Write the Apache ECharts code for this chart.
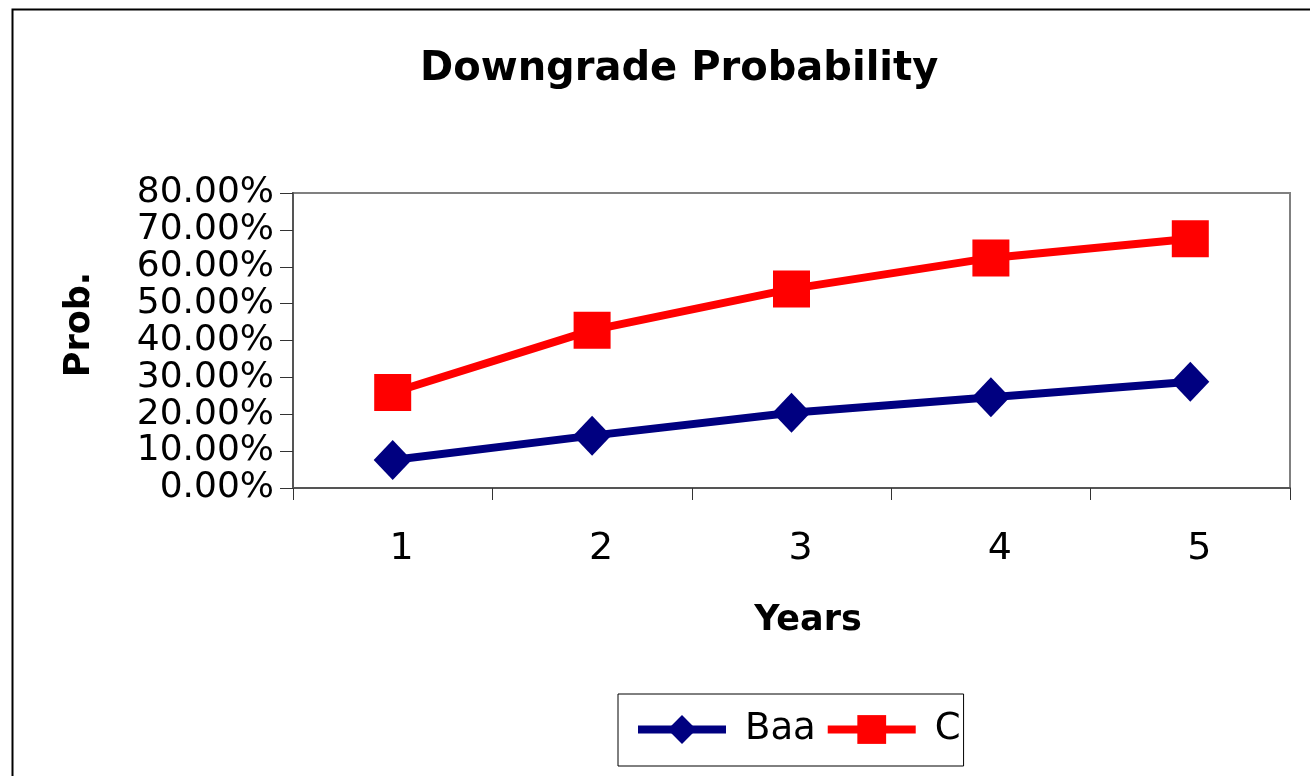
<!DOCTYPE html>
<html>
<head>
<meta charset="utf-8">
<script src="https://cdn.jsdelivr.net/npm/echarts@6/dist/echarts.min.js"></script>
<style>
html,body{margin:0;padding:0;background:#fff;}
#c{width:1310px;height:776px;}
</style>
</head>
<body>
<div id="c"></div>
<script>
const years = ['1', '2', '3', '4', '5'];
const baa = [7.6, 14.2, 20.4, 24.6, 28.8];
const cGrade = [25.9, 42.8, 54.0, 62.4, 67.6];
const seriesNames = ['Baa', 'C'];

const FONT = 'DejaVu Sans';
const chart = echarts.init(document.getElementById('c'), null, {renderer: 'canvas'});
chart.setOption({
  backgroundColor: '#fff',
  animation: false,
  graphic: [{
    type: 'rect', left: 10, top: 7, silent: true,
    shape: {width: 1400, height: 900},
    style: {fill: 'none', stroke: '#000', lineWidth: 2}
  }],
  title: {
    text: 'Downgrade Probability',
    left: 420, top: 50,
    padding: 0,
    textStyle: {fontFamily: FONT, fontWeight: 'bold', fontSize: 40, color: '#000'}
  },
  legend: {
    data: seriesNames,
    left: 618, top: 694,
    padding: [17, 3, 18, 16],
    itemGap: 8,
    itemWidth: 88, itemHeight: 36,
    borderColor: '#000', borderWidth: 1,
    lineStyle: {width: 8},
    textStyle: {fontFamily: FONT, fontSize: 37, color: '#000', padding: [0, 0, 0, 14]}
  },
  grid: {
    left: 293, top: 193, right: 20, bottom: 288,
    show: true, borderColor: '#808080', borderWidth: 2, backgroundColor: '#fff'
  },
  xAxis: {
    type: 'category', data: years, boundaryGap: true,
    name: 'Years', nameLocation: 'middle', nameGap: 115,
    nameTextStyle: {fontFamily: FONT, fontWeight: 'bold', fontSize: 35, color: '#000', padding: [0, 0, 0, 33]},
    axisLine: {lineStyle: {color: '#555', width: 2}},
    axisTick: {show: true, length: 12, alignWithLabel: false, lineStyle: {color: '#333', width: 1}},
    axisLabel: {fontFamily: FONT, fontSize: 38, color: '#000', margin: 42, padding: [0, 0, 0, 18]},
    splitLine: {show: false}
  },
  yAxis: {
    type: 'value', min: 0, max: 80, interval: 10,
    name: 'Prob.', nameLocation: 'middle', nameGap: 196, nameRotate: 90,
    nameTextStyle: {fontFamily: FONT, fontWeight: 'bold', fontSize: 35, color: '#000', padding: [0, 0, 0, 32]},
    axisLine: {show: true, lineStyle: {color: '#555', width: 2}},
    axisTick: {show: true, length: 13, lineStyle: {color: '#333', width: 1}},
    axisLabel: {fontFamily: FONT, fontSize: 36, color: '#000', margin: 19,
      formatter: v => v.toFixed(2) + '%'},
    splitLine: {show: false}
  },
  series: [{
    name: seriesNames[0], type: 'line', data: baa,
    symbol: 'diamond', symbolSize: [38, 40],
    lineStyle: {color: '#000080', width: 8},
    itemStyle: {color: '#000080'}
  }, {
    name: seriesNames[1], type: 'line', data: cGrade,
    symbol: 'rect', symbolSize: 37,
    lineStyle: {color: '#ff0000', width: 8},
    itemStyle: {color: '#ff0000'}
  }]
});
</script>
</body>
</html>
